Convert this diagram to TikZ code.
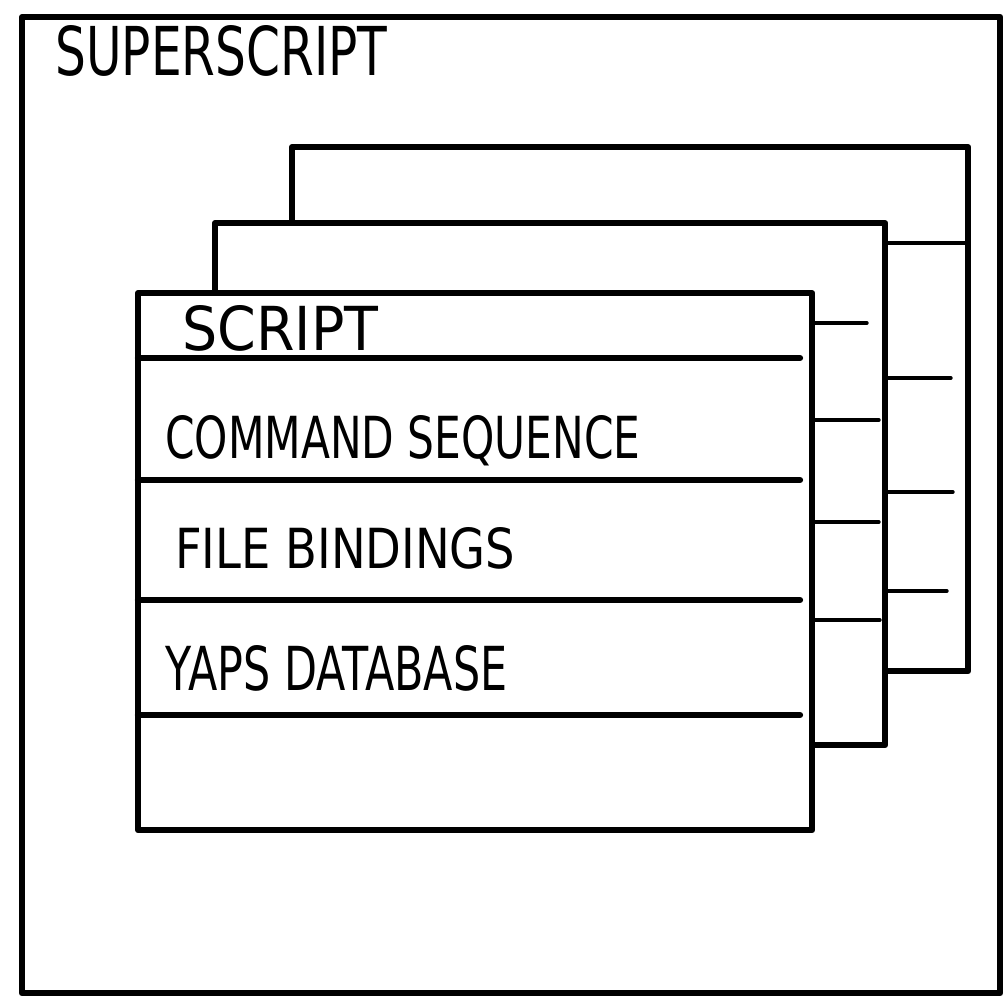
\documentclass[tikz,border=0pt]{standalone}
\usepackage{fontspec}
\setmainfont{DejaVu Sans}
\usepackage{graphicx}

\begin{document}
\begin{tikzpicture}[x=0.025cm, y=-0.025cm,
      sheet/.style = {draw, line width=4.3pt, line join=round, fill=white,
        inner sep=0pt, outer sep=0pt, anchor=north west},
      rowline/.style = {line width=4.5pt, line cap=round},
      tick/.style = {line width=2.4pt, line cap=round},
      hand/.style = {anchor=north west, inner sep=0pt}]
  \useasboundingbox (0,0) rectangle (1008,1002);
  % outer frame
  \node[sheet, minimum width=24.45cm, minimum height=24.4cm] (super) at (22,17) {};
  \node[hand] (supertitle) at (55,25) {\resizebox{8.3cm}{1.25cm}{SUPERSCRIPT}};
  % stacked scripts, back to front
  \node[sheet, minimum width=16.9cm, minimum height=13.1cm] (back) at (292,147) {};
  \node[sheet, minimum width=16.75cm, minimum height=13.05cm] (middle) at (215,223) {};
  \foreach \y/\e in {243/965, 378/951, 492/953, 591/947}
    \draw[tick] (middle.east |- 0,\y) -- (\e,\y);
  \node[sheet, minimum width=16.85cm, minimum height=13.425cm] (front) at (138,293) {};
  \foreach \y/\e in {323/867, 420/879, 522/879, 620/880}
    \draw[tick] (front.east |- 0,\y) -- (\e,\y);
  % rows of the front script
  \foreach \y in {358, 480, 600, 715}
    \draw[rowline] (front.west |- 0,\y) -- (800,\y);
  \node[hand] (script) at (182,305) {\resizebox{4.9cm}{1.125cm}{SCRIPT}};
  \node[hand] (cmdseq) at (165,415) {\resizebox{11.875cm}{1.075cm}{COMMAND SEQUENCE}};
  \node[hand] (bindings) at (175,527) {\resizebox{8.5cm}{1.025cm}{FILE BINDINGS}};
  \node[hand] (yapsdb) at (165,645) {\resizebox{8.55cm}{1.125cm}{YAPS DATABASE}};
\end{tikzpicture}
\end{document}
